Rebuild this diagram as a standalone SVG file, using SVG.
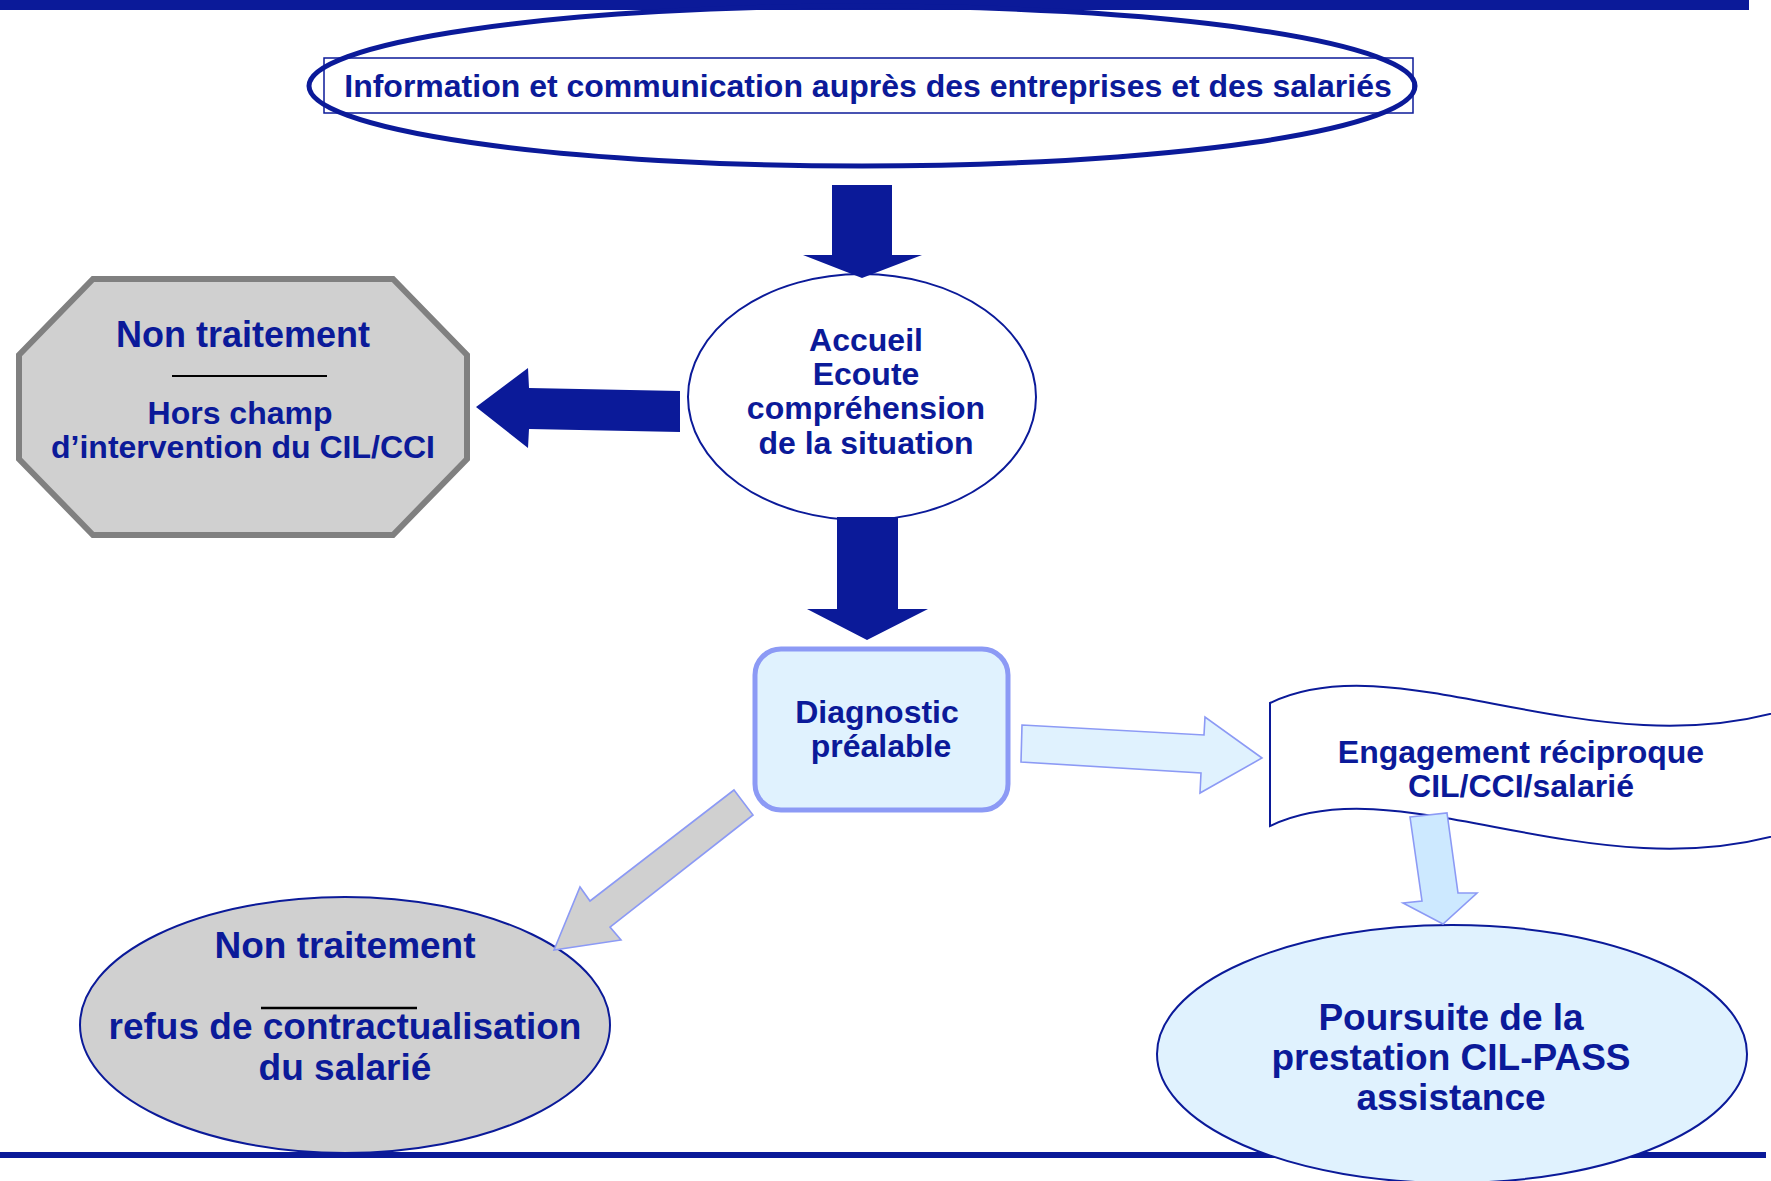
<svg xmlns="http://www.w3.org/2000/svg" width="1771" height="1181" viewBox="0 0 1771 1181">
<style>
.t{font-family:"Liberation Sans",Arial,sans-serif;font-weight:bold;fill:#0B1A99;text-anchor:middle}
.dk{fill:#0B1A99;stroke:none}
.lb{fill:#E0F2FE;stroke:#8C9AF5;stroke-width:1.6}
.gr{fill:#D0D0D0;stroke:#8C9AF5;stroke-width:1.6}
</style>
<rect width="1771" height="1181" fill="#FFFFFF"/>
<rect x="0" y="0" width="1749" height="10" fill="#0B1A99"/>

<g id="node-info">
<ellipse cx="862" cy="86" rx="553" ry="80" fill="none" stroke="#0B1A99" stroke-width="5"/>
<rect x="324" y="58" width="1089" height="55" fill="none" stroke="#0B1A99" stroke-width="1.5"/>
<text class="t" x="868" y="97" font-size="32">Information et communication auprès des entreprises et des salariés</text>
</g>

<g id="node-accueil">
<ellipse cx="862" cy="397" rx="174" ry="123" fill="#FFFFFF" stroke="#0B1A99" stroke-width="2"/>
<text class="t" font-size="32"><tspan x="866" y="351">Accueil</tspan><tspan x="866" y="385">Ecoute</tspan><tspan x="866" y="419">compréhension</tspan><tspan x="866" y="454">de la situation</tspan></text>
</g>

<g id="node-hors-champ">
<polygon points="93,279 393,279 467,355 467,459 393,535 93,535 19,459 19,355" fill="#D0D0D0" stroke="#808080" stroke-width="6"/>
<text class="t" x="243" y="347" font-size="36">Non traitement</text>
<line x1="172" y1="376" x2="327" y2="376" stroke="#000000" stroke-width="2"/>
<text class="t" font-size="32"><tspan x="240" y="424">Hors champ</tspan><tspan x="243" y="458">d’intervention du CIL/CCI</tspan></text>
</g>

<g id="node-diagnostic">
<rect x="755" y="649" width="253" height="161" rx="26" ry="26" fill="#E0F2FE" stroke="#8C9AF5" stroke-width="5"/>
<text class="t" font-size="32"><tspan x="877" y="723">Diagnostic</tspan><tspan x="881" y="757">préalable</tspan></text>
</g>

<g id="node-engagement">
<path d="M1270,703 C1400,640 1600,775 1800,705 L1800,828 C1600,898 1400,763 1270,826 Z" fill="#FFFFFF" stroke="#0B1A99" stroke-width="2"/>
<text class="t" font-size="32"><tspan x="1521" y="763">Engagement réciproque</tspan><tspan x="1521" y="797">CIL/CCI/salarié</tspan></text>
</g>

<g id="node-refus">
<ellipse cx="345" cy="1025" rx="265" ry="128" fill="#D0D0D0" stroke="#0B1A99" stroke-width="2"/>
<text class="t" x="345" y="958" font-size="37">Non traitement</text>
<line x1="261" y1="1008" x2="417" y2="1008" stroke="#000000" stroke-width="2.5"/>
<text class="t" font-size="37"><tspan x="345" y="1039">refus de contractualisation</tspan><tspan x="345" y="1080">du salarié</tspan></text>
</g>

<rect x="0" y="1152" width="1766" height="6" fill="#0B1A99"/>

<g id="node-poursuite">
<ellipse cx="1452" cy="1054" rx="295" ry="129" fill="#E0F2FE" stroke="#0B1A99" stroke-width="2"/>
<text class="t" font-size="37"><tspan x="1451" y="1030">Poursuite de la</tspan><tspan x="1451" y="1070">prestation CIL-PASS</tspan><tspan x="1451" y="1110">assistance</tspan></text>
</g>

<g id="connectors">
<polygon class="dk" points="832,185 892,185 892,255 922,255 862,278 803,255 832,255"/>
<polygon class="dk" points="837,517 898,517 898,609 928,609 867,640 807,609 837,609"/>
<polygon class="dk" points="680,391 529,388 528,368 476,407 528,448 529,429 680,432"/>
<polygon class="lb" points="1022,725 1204,735 1205,717 1262,758 1200,793 1201,773 1021,762"/>
<polygon class="gr" points="734,790 753,815 610,927 621,940 554,950 580,887 590,901"/>
<polygon points="1410,817 1447,813 1458,893 1477,893 1443,924 1403,903 1422,901" fill="#CDE9FF" stroke="#8C9AF5" stroke-width="1.6"/>
</g>
</svg>
